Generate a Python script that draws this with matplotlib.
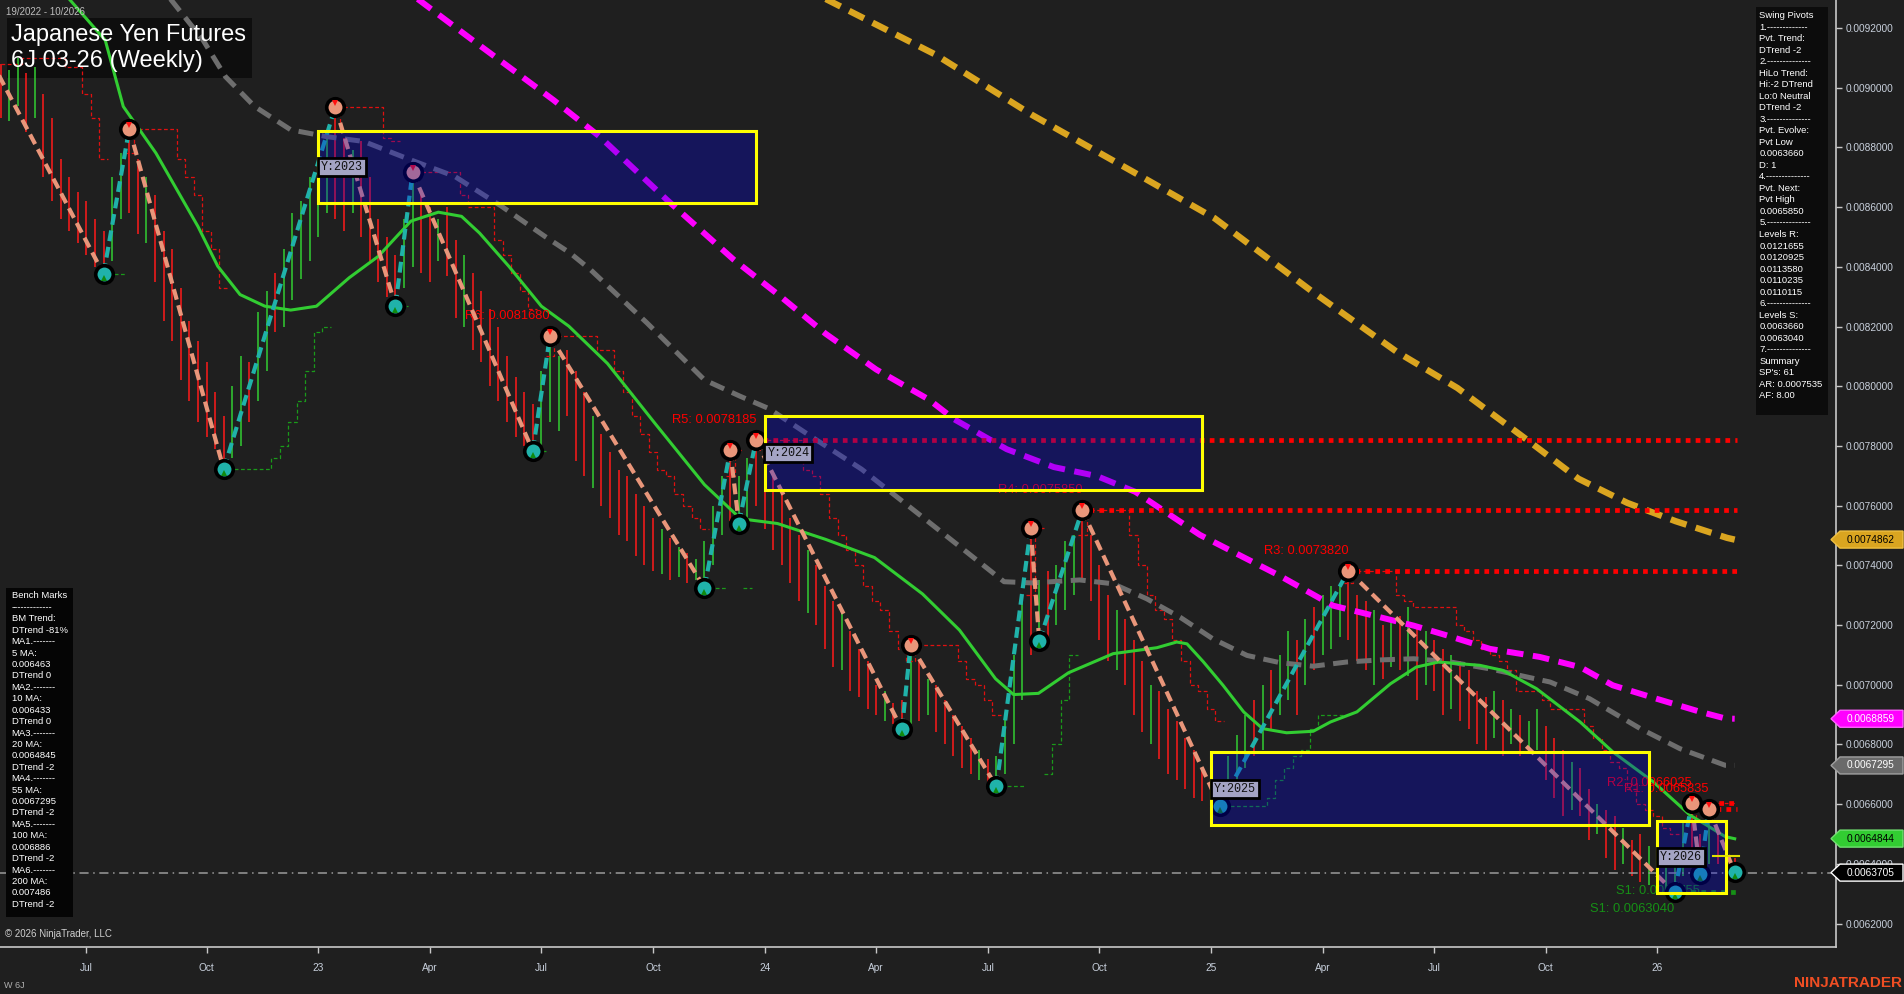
import numpy as np
import pandas as pd
import matplotlib
matplotlib.use("Agg")
import matplotlib.pyplot as plt
from matplotlib.patches import Rectangle, Polygon
import matplotlib.transforms as mtransforms

# ---------------------------------------------------------------- data
S = 1e-6  # all price values below are in units of 1e-6

start_date = "2022-04-22"  # first weekly bar (Friday)

bar_high = [
    9080, 9060, 9100, 9050, 9070, 8980, 8900, 8760, 8700, 8650,
    8620, 8560, 8520, 8700, 8780, 8863, 8760, 8700, 8640, 8520,
    8460, 8330, 8220, 8150, 8080, 7980, 7900, 8000, 8100, 8080,
    8250, 8320, 8380, 8460, 8580, 8620, 8700, 8760, 8850, 8936,
    8830, 8790, 8820, 8700, 8560, 8500, 8440, 8560, 8717, 8640,
    8600, 8560, 8600, 8490, 8440, 8380, 8320, 8260, 8200, 8100,
    8030, 7980, 7940, 8050, 8168, 8100, 8120, 8050, 7980, 7900,
    7840, 7780, 7720, 7700, 7640, 7600, 7560, 7520, 7490, 7460,
    7440, 7420, 7480, 7600, 7700, 7785, 7700, 7760, 7818.5, 7720,
    7700, 7640, 7560, 7500, 7450, 7400, 7330, 7280, 7250, 7180,
    7120, 7080, 7000, 6980, 6940, 6950, 7134, 7080, 7020, 7000,
    6950, 6900, 6860, 6820, 6780, 6750, 6760, 6900, 7100, 7300,
    7524, 7350, 7380, 7400, 7480, 7500, 7585, 7500, 7400, 7300,
    7250, 7220, 7150, 7080, 7000, 6980, 6920, 6880, 6820, 6780,
    6720, 6700, 6680, 6760, 6830, 6900, 6950, 7000, 7050, 7100,
    7180, 7150, 7220, 7260, 7300, 7330, 7340, 7382, 7300, 7280,
    7250, 7200, 7220, 7230, 7260, 7200, 7180, 7150, 7120, 7100,
    7080, 7050, 6980, 6960, 6980, 6950, 6920, 6900, 6880, 6920,
    6860, 6820, 6780, 6740, 6720, 6650, 6600, 6580, 6560, 6520,
    6480, 6500, 6460, 6420, 6400, 6420, 6540, 6602.5, 6500, 6583.5,
    6520, 6480, 6420,
]
bar_low = [
    8900, 8890, 8940, 8850, 8900, 8700, 8620, 8560, 8520, 8480,
    8440, 8400, 8376, 8420, 8560, 8580, 8510, 8480, 8350, 8220,
    8150, 8020, 7950, 7880, 7830, 7790, 7722, 7760, 7800, 7880,
    7950, 8050, 8180, 8200, 8290, 8360, 8420, 8500, 8580, 8560,
    8520, 8580, 8500, 8420, 8350, 8300, 8270, 8330, 8400, 8380,
    8350, 8420, 8370, 8230, 8200, 8120, 8080, 8000, 7950, 7880,
    7830, 7800, 7783, 7800, 7880, 7850, 7900, 7750, 7700, 7660,
    7600, 7560, 7500, 7480, 7430, 7400, 7380, 7370, 7350, 7360,
    7340, 7350, 7325, 7400, 7500, 7550, 7540, 7560, 7600, 7520,
    7450, 7400, 7340, 7280, 7240, 7200, 7120, 7060, 7050, 6980,
    6960, 6920, 6900, 6880, 6870, 6850, 6870, 6880, 6900, 6840,
    6800, 6760, 6720, 6700, 6680, 6670, 6659, 6700, 6800, 6950,
    7100, 7146, 7160, 7200, 7250, 7300, 7350, 7280, 7150, 7080,
    7050, 7000, 6900, 6840, 6800, 6750, 6700, 6680, 6650, 6620,
    6610, 6600, 6594, 6620, 6680, 6720, 6760, 6780, 6850, 6900,
    6950, 6900, 7000, 7050, 7100, 7120, 7160, 7150, 7080, 7050,
    7000, 7020, 7060, 7050, 7030, 6950, 7000, 6980, 6900, 6920,
    6880, 6850, 6800, 6780, 6820, 6760, 6800, 6760, 6770, 6780,
    6680, 6620, 6560, 6580, 6560, 6480, 6500, 6420, 6380, 6400,
    6360, 6340, 6330, 6320, 6310, 6304, 6360, 6420, 6366, 6400,
    6400, 6380, 6371,
]
bar_dir = ("duududdddd" "ddduuddudd" "ddddddduud" "uuduuuuuud" "duddddduud"
           "dudduddddd" "ddduuudddu" "dddddddudu" "duuuuduudd" "ddddudddud"
           "ddduddudud" "dddduduuuu" "duduuudddd" "uddduddddd" "duuuuududu"
           "ududuuuddd" "ududududdu" "ddddududuu" "dddudduddu" "dduduuuddu"
           "ddd")

# swing pivots (bar index, price)
pivot_idx = [-3, 12, 15, 26, 39, 46, 48, 62, 64, 82, 85, 86, 88, 105, 106, 116,
             120, 121, 126, 142, 157, 195, 197, 198, 199, 202]
pivot_val = [9195, 8376, 8863, 7722, 8936, 8270, 8717, 7783, 8168, 7325, 7785,
             7540, 7818.5, 6850, 7134, 6659, 7524, 7146, 7585, 6594, 7382,
             6304, 6602.5, 6366, 6583.5, 6371]

# moving averages (bar index, price)
ma20_idx = [7, 12.2, 14.3, 18.1, 23.0, 25.3, 27.9, 30.8, 33.8, 36.8, 40.6, 44.0,
            47.8, 51.0, 53.7, 55.8, 59.2, 63.0, 66.2, 70.7, 76.3, 82.0, 86.2,
            90.5, 96.1, 101.8, 107.4, 111.7, 115.9, 118.0, 120.9, 124.4, 129.6,
            134.7, 137.0, 138.2, 140.1, 142.4, 144.8, 147.0, 149.8, 152.9,
            154.9, 158.0, 161.9, 164.9, 167.5, 172.3, 175.0, 178.9, 184.0,
            187.8, 192.5, 196.8, 198.7, 200.9, 202]
ma20_val = [9330, 9159, 8937, 8781, 8535, 8402, 8307, 8268, 8255, 8268, 8363,
            8435, 8553, 8583, 8569, 8513, 8402, 8268, 8201, 8076, 7873, 7670,
            7556, 7540, 7487, 7426, 7304, 7183, 7020, 6967, 6971, 7040, 7104,
            7124, 7143, 7137, 7077, 6998, 6909, 6853, 6839, 6844, 6875, 6909,
            7003, 7059, 7076, 7065, 7048, 6987, 6875, 6775, 6675, 6563, 6530,
            6491, 6484]
ma55_idx = [19.0, 23.6, 26.2, 29.6, 33.8, 38.0, 42.3, 47.8, 52.9, 58.4, 63.4,
            66.3, 68.7, 75.3, 82.0, 86.1, 89.5, 94.5, 100.3, 106.1, 111.9,
            116.9, 120.2, 125.7, 129.6, 133.5, 137.4, 141.2, 145.2, 149.0,
            152.9, 156.8, 160.7, 164.6, 168.5, 173.5, 180.5, 185.1, 191.0,
            195.6, 200.9, 202]
ma55_val = [9326, 9159, 9037, 8937, 8859, 8836, 8820, 8758, 8703, 8602, 8502,
            8447, 8391, 8212, 8021, 7967, 7925, 7830, 7722, 7591, 7459, 7345,
            7341, 7351, 7338, 7288, 7226, 7154, 7098, 7074, 7062, 7076, 7083,
            7087, 7078, 7053, 7009, 6953, 6853, 6786, 6730, 6730]
ma100_idx = [48.0, 55.0, 64.4, 69.8, 77.6, 85.4, 90.8, 96.1, 102.0, 108.1, 111.1,
             117.2, 122.7, 127.7, 132.2, 139.7, 149.0, 155.2, 160.7, 164.6,
             168.5, 173.5, 179.3, 184.0, 187.8, 192.9, 198.0, 200.9, 202]
ma100_val = [9310, 9159, 8959, 8836, 8625, 8424, 8302, 8176, 8056, 7956, 7889,
             7789, 7729, 7699, 7646, 7502, 7365, 7265, 7226, 7198, 7165, 7120,
             7093, 7059, 6998, 6953, 6909, 6887, 6886]
ma200_idx = [94.7, 108.9, 120.2, 131.5, 141.4, 152.7, 162.6, 169.7, 178.2, 183.8,
             189.5, 195.1, 201.1, 202]
ma200_val = [9318, 9111, 8908, 8725, 8563, 8319, 8116, 7994, 7812, 7690, 7609,
             7548, 7492, 7486]

# yearly boxes
year_labels = ["Y:2023", "Y:2024", "Y:2025", "Y:2026"]
year_box_x0 = [37, 89, 141, 193]
year_box_x1 = [88, 140, 192, 201]
year_box_top = [8855, 7901, 6773, 6545]
year_box_bot = [8615, 7653, 6529, 6302]
level_2026_mark = 6426

# resistance / support levels
res_names = ["R6", "R5", "R4", "R3", "R2", "R1"]
res_idx = [64, 88, 126, 157, 197, 199]
res_val = [8168.0, 7818.5, 7585.0, 7382.0, 6602.5, 6583.5]
res_has_line = [False, True, True, True, True, True]
sup_idx = [195, 198]
sup_val = [6304.0, 6366.0]
sup_text = ["S1: 0.0063040", "S1: 0.0063755"]

last_price = 6370.5

# right-axis price tags: value, fill, text colour, edge
tag_vals = [7486.2, 6885.9, 6729.5, 6484.4, 6370.5]
tag_fill = ["#DAA520", "#FF00FF", "#6a6a6a", "#32CD32", "#000000"]
tag_text = ["black", "white", "white", "black", "white"]
tag_edge = ["#f0c040", "#ff60ff", "#a0a0a0", "#70e070", "#ffffff"]

swing_panel_lines = [
    "Swing Pivots", "1.-------------", "Pvt. Trend:", "DTrend -2",
    "2.--------------", "HiLo Trend:", "Hi:-2 DTrend", "Lo:0 Neutral",
    "DTrend -2", "3.--------------", "Pvt. Evolve:", "Pvt Low", "0.0063660",
    "D: 1", "4.--------------", "Pvt. Next:", "Pvt High", "0.0065850",
    "5.--------------", "Levels R:", "0.0121655", "0.0120925", "0.0113580",
    "0.0110235", "0.0110115", "6.--------------", "Levels S:", "0.0063660",
    "0.0063040", "7.--------------", "Summary", "SP's: 61", "AR: 0.0007535",
    "AF: 8.00",
]
bench_panel_lines = [
    "Bench Marks", "-------------", "BM Trend:", "DTrend -81%", "MA1.-------",
    "5 MA:", "0.006463", "DTrend 0", "MA2.-------", "10 MA:", "0.006433",
    "DTrend 0", "MA3.-------", "20 MA:", "0.0064845", "DTrend -2",
    "MA4.-------", "55 MA:", "0.0067295", "DTrend -2", "MA5.-------",
    "100 MA:", "0.006886", "DTrend -2", "MA6.-------", "200 MA:", "0.007486",
    "DTrend -2",
]

# ---------------------------------------------------------------- figure
W, H = 1904, 994
BG = "#1f1f1f"
plt.rcParams["font.family"] = ["Liberation Sans", "DejaVu Sans"]

fig = plt.figure(figsize=(W / 100, H / 100), dpi=100, facecolor=BG)
AX_R, AX_B = 1836, 947
ax = fig.add_axes([0, 1 - AX_B / H, AX_R / W, AX_B / H])
ax.set_facecolor(BG)
YMIN, YMAX = 0.0061213, 0.0092938
ax.set_xlim(-0.06, 213.8)
ax.set_ylim(YMIN, YMAX)

# title box sits beneath the chart content
ax.add_patch(Rectangle((7 / W, 1 - 78 / H), 245 / W, 60 / H, transform=fig.transFigure,
                       fc="#0e0e0e", ec="none", zorder=0.5))

n = len(bar_high)
xs = np.arange(n)
hi = np.array(bar_high) * S
lo = np.array(bar_low) * S
ups = np.array([c == "u" for c in bar_dir])
dates = pd.date_range(start_date, periods=n, freq="W-FRI")

# bars
ax.vlines(xs, lo, hi, colors=np.where(ups, "#32CD32", "#FF1A1A"), lw=1.1, zorder=2)

# leg direction per bar from pivots
piv_x = np.array(pivot_idx)
piv_y = np.array(pivot_val) * S
down = np.zeros(n, bool)
for k in range(len(piv_x) - 1):
    if piv_y[k + 1] < piv_y[k]:
        down[max(piv_x[k], 0):piv_x[k + 1] + 1] = True

upper = pd.Series(hi).rolling(5, min_periods=1).max().shift(1).bfill().values
lower = pd.Series(lo).rolling(5, min_periods=1).min().shift(1).bfill().values
ax.step(xs, np.where(down, upper, np.nan), where="mid", color="#e01010",
        lw=0.9, ls=(0, (3, 2)), zorder=2.2)
ax.step(xs, np.where(~down, lower, np.nan), where="mid", color="#1a9a1a",
        lw=0.9, ls=(0, (3, 2)), zorder=2.2)

# moving averages
ax.plot(ma200_idx, np.array(ma200_val) * S, color="#DAA520", lw=4.6,
        ls=(0, (2.6, 1.5)), zorder=3)
ax.plot(ma100_idx, np.array(ma100_val) * S, color="#FF00FF", lw=4.3,
        ls=(0, (2.8, 1.6)), zorder=3)
ax.plot(ma55_idx, np.array(ma55_val) * S, color="#6e6e6e", lw=3.6,
        ls=(0, (3, 1.7)), zorder=3)
ax.plot(ma20_idx, np.array(ma20_val) * S, color="#32CD32", lw=2.2, zorder=3.1)

# last price line
ax.axhline(last_price * S, color="#9a9a9a", lw=1.1, ls=(0, (6, 3, 1, 3)), zorder=2.5)

# resistance levels
for name, i, v, has in zip(res_names, res_idx, res_val, res_has_line):
    if has:
        ax.plot([i + 0.8, 202.3], [v * S, v * S], color="#FF0000", lw=3.4,
                ls=(0, (1, 1.1)), dash_capstyle="butt", zorder=3.5)
    ax.annotate(f"{name}: {v * S:.7f}", (i, v * S), xytext=(0, 14.4),
                textcoords="offset points", ha="right", va="center",
                color="#FF0000", fontsize=9.3, zorder=3.6)

# support levels
ax.plot([sup_idx[0] + 0.8, 202.3], [sup_val[0] * S] * 2, color="#169016",
        lw=3.4, ls=(0, (1, 1.1)), dash_capstyle="butt", zorder=3.5)
for i, v, t in zip(sup_idx, sup_val, sup_text):
    ax.annotate(t, (i, v * S), xytext=(0, -12.2), textcoords="offset points",
                ha="right", va="center", color="#169016", fontsize=9.3, zorder=3.6)

# swing lines
for k in range(len(piv_x) - 1):
    c = "#E9967A" if piv_y[k + 1] < piv_y[k] else "#20B2AA"
    ax.plot(piv_x[k:k + 2], piv_y[k:k + 2], color=c, lw=3.0,
            ls=(0, (2.6, 1.4)), zorder=4)

# pivot circles
is_high = []
for k in range(len(piv_x)):
    nb = piv_y[k + 1] if k < len(piv_x) - 1 else piv_y[k - 1]
    is_high.append(piv_y[k] > nb)
is_high = np.array(is_high)
vis = piv_x >= 0
hx, hy = piv_x[is_high & vis], piv_y[is_high & vis]
lx, ly = piv_x[~is_high & vis], piv_y[~is_high & vis]
ax.scatter(hx, hy, s=160, c="#E9967A", edgecolors="black", linewidths=2.6, zorder=5)
ax.scatter(lx, ly, s=160, c="#20B2AA", edgecolors="black", linewidths=2.6, zorder=5)
up_off = mtransforms.offset_copy(ax.transData, fig=fig, x=0, y=4, units="dots")
dn_off = mtransforms.offset_copy(ax.transData, fig=fig, x=0, y=-4, units="dots")
ax.plot(hx, hy, ls="none", marker="v", ms=4.5, color="#ff1010", mew=0,
        transform=up_off, zorder=5.1)
ax.plot(lx, ly, ls="none", marker="^", ms=4.5, color="#108a10", mew=0,
        transform=dn_off, zorder=5.1)

# yearly boxes
for lab, x0, x1, t, b in zip(year_labels, year_box_x0, year_box_x1,
                             year_box_top, year_box_bot):
    ax.add_patch(Rectangle((x0, b * S), x1 - x0, (t - b) * S, fc="#0000e6",
                           alpha=0.3, ec="none", zorder=6))
    ax.add_patch(Rectangle((x0, b * S), x1 - x0, (t - b) * S, fc="none",
                           ec="#FFFF00", lw=2.2, zorder=6.1))
    ax.annotate(lab, (x0, (t + b) / 2 * S), xytext=(2, 0),
                textcoords="offset points", family="Liberation Mono",
                fontsize=8.5, color="#111111", ha="left", va="center", zorder=7,
                bbox=dict(boxstyle="square,pad=0.25", fc="#a4a4c4", ec="black", lw=2))
ax.plot([199.5, 202.5], [level_2026_mark * S] * 2, color="#e0e000", lw=1.5, zorder=6.2)

# axes styling
ax.yaxis.tick_right()
yt = np.arange(0.0062, 0.00921, 0.0002)
ax.set_yticks(yt)
ax.set_yticklabels([f"{t:.7f}" for t in yt])
tick_pos, tick_lab = [], []
for i in range(1, n):
    d = dates[i]
    if d.month != dates[i - 1].month and d.month in (1, 4, 7, 10):
        tick_pos.append(i)
        tick_lab.append(f"{d.year % 100}" if d.month == 1 else d.strftime("%b"))
ax.set_xticks(tick_pos)
ax.set_xticklabels(tick_lab)
ax.tick_params(axis="y", direction="out", length=4.3, width=1, colors="#c8c8c8",
               labelcolor="#c8d0dc", labelsize=7.3, pad=2.5)
ax.tick_params(axis="x", direction="out", length=4, width=1, colors="#c8c8c8",
               labelcolor="#c8d0dc", labelsize=7.3, pad=7.5)
for sp in ("top", "left"):
    ax.spines[sp].set_visible(False)
for sp in ("right", "bottom"):
    ax.spines[sp].set_color("#c8c8c8")
    ax.spines[sp].set_linewidth(1.2)

# price tags on the right axis
bt = mtransforms.blended_transform_factory(ax.transAxes, ax.transData)
dy = 8.5 / AX_B * (YMAX - YMIN)
for v, fc, tc, ec in zip(tag_vals, tag_fill, tag_text, tag_edge):
    p = v * S
    xt, xl, xr = 1831 / AX_R, 1840 / AX_R, 1903 / AX_R
    ax.add_patch(Polygon([(xt, p), (xl, p + dy), (xr, p + dy), (xr, p - dy),
                          (xl, p - dy)], closed=True, transform=bt, fc=fc, ec=ec,
                         lw=1, clip_on=False, zorder=10))
    ax.text(1847 / AX_R, p, f"{p:.7f}", transform=bt, color=tc, fontsize=7.3,
            va="center", ha="left", zorder=11, clip_on=False)


# ---------------------------------------------------------------- overlays
def rect_px(x0, y0, x1, y1, fc):
    fig.add_artist(Rectangle((x0 / W, 1 - y1 / H), (x1 - x0) / W, (y1 - y0) / H,
                             transform=fig.transFigure, fc=fc, ec="none", zorder=20))


def text_px(x, y, s, **kw):
    kw.setdefault("zorder", 21)
    fig.text(x / W, 1 - y / H, s, **kw)


text_px(6, 11.7, "19/2022 - 10/2026", fontsize=7, color="#bdbdbd", va="center")
text_px(11, 35, "Japanese Yen Futures", fontsize=17, color="white", va="center")
text_px(11, 60.5, "6J 03-26 (Weekly)", fontsize=17, color="white", va="center")

rect_px(1756, 7, 1828, 415, "#0c0c0c")
sp_step = (395.7 - 15.7) / (len(swing_panel_lines) - 1)
for i, line in enumerate(swing_panel_lines):
    text_px(1759.3, 15.7 + i * sp_step, line, fontsize=6.8, color="white", va="center")

rect_px(6, 588, 73, 917, "#050505")
bm_step = (904.3 - 596) / (len(bench_panel_lines) - 1)
for i, line in enumerate(bench_panel_lines):
    text_px(11.7, 596 + i * bm_step, line, fontsize=6.8, color="white", va="center")

text_px(5, 934, "\u00a9 2026 NinjaTrader, LLC", fontsize=7, color="#d0d0d0", va="center")
text_px(4, 985, "W 6J", fontsize=6.5, color="#b0b0b0", va="center")
text_px(1902, 983, "NINJATRADER", fontsize=11, color="#f04e23", va="center",
        ha="right", fontweight="bold")

fig.savefig("out.png", dpi=100, facecolor=BG)
